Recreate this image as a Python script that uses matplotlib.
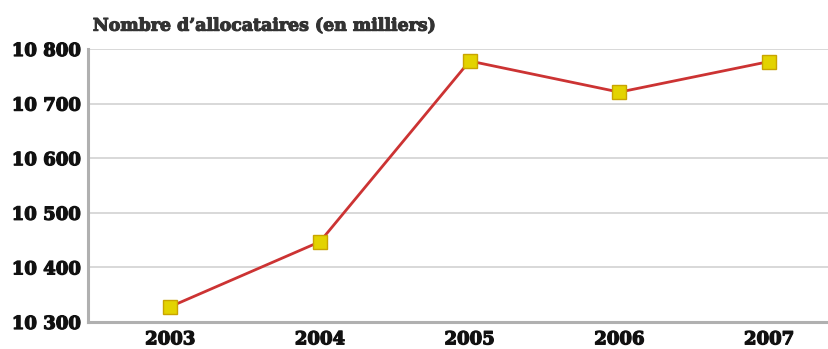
import matplotlib.pyplot as plt
import matplotlib.patheffects as pe
from matplotlib.ticker import FuncFormatter

# ── DATA ─────────────────────────────────────────────
years = [2003, 2004, 2005, 2006, 2007]
allocataires = [10328, 10447, 10778, 10721, 10777]
y_ticks = [10300, 10400, 10500, 10600, 10700, 10800]

plt.rcParams['font.family'] = ['DejaVu Serif']
plt.rcParams['font.weight'] = 'bold'

fig = plt.figure(figsize=(8.29, 3.49), dpi=100)
ax = fig.add_axes([0.106, 0.0774, 0.894, 0.7822])

ax.plot(years, allocataires, color='#cc3333', linewidth=2, zorder=3,
        marker='s', markersize=10, markerfacecolor='#e3d300',
        markeredgecolor='#c9a400', markeredgewidth=1)

ax.set_xlim(2002.45, 2007.4)
ax.set_ylim(10300, 10800)
ax.set_yticks(y_ticks)
ax.set_xticks(years)
ax.yaxis.set_major_formatter(FuncFormatter(lambda v, p: f"{int(v):,}".replace(',', ' ')))

ax.grid(axis='y', color='#d6d6d6', linewidth=1.3)
ax.set_axisbelow(True)
for s in ['top', 'right']:
    ax.spines[s].set_visible(False)
for s in ['left', 'bottom']:
    ax.spines[s].set_color('#b0b0b0')
    ax.spines[s].set_linewidth(2.2)

ax.tick_params(length=0, labelsize=13, colors='#111111')
ax.tick_params(axis='y', pad=5)
ax.tick_params(axis='x', pad=6)

# heavier strokes to mimic the black-weight font
heavy = [pe.withStroke(linewidth=0.9, foreground='#111111')]
for lbl in ax.get_xticklabels() + ax.get_yticklabels():
    lbl.set_path_effects(heavy)

fig.text(0.112, 0.925, "Nombre d\u2019allocataires (en milliers)", fontsize=12.5,
         fontweight='bold', color='#333333', va='center', ha='left',
         path_effects=[pe.withStroke(linewidth=0.8, foreground='#333333')])

fig.savefig('out.png', dpi=100)
